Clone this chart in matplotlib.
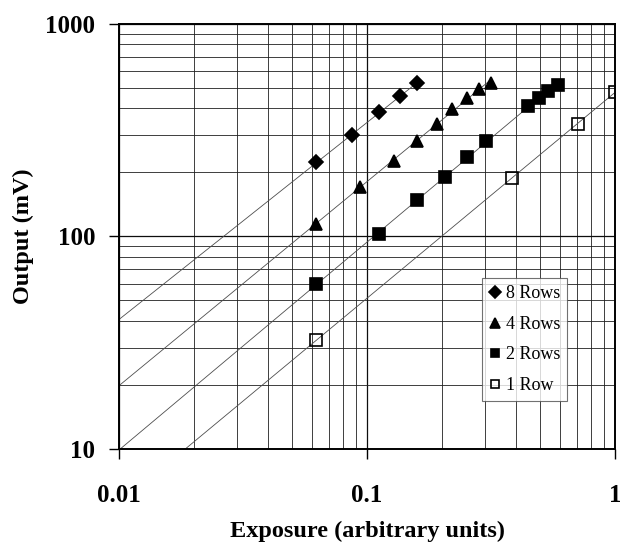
import numpy as np
import matplotlib
matplotlib.use("Agg")
import matplotlib.pyplot as plt
from matplotlib.ticker import LogLocator, NullFormatter, FixedLocator, FixedFormatter

plt.rcParams['font.family'] = ['Liberation Serif', 'DejaVu Serif']

# exposure / output readings per row setting
x8 = [0.0625, 0.087, 0.112, 0.136, 0.159]
y8 = [223, 300, 384, 457, 528]
x4 = [0.0625, 0.094, 0.128, 0.159, 0.191, 0.220, 0.252, 0.283, 0.316]
y4 = [115, 171, 227, 282, 338, 398, 450, 493, 526]
x2 = [0.0625, 0.112, 0.159, 0.206, 0.253, 0.301, 0.444, 0.492, 0.536, 0.588]
y2 = [59.6, 103, 148, 191, 237, 280, 411, 450, 484, 516]
x1 = [0.0625, 0.385, 0.706, 1.0]
y1 = [32.6, 188, 338, 480]

labels = ['8 Rows', '4 Rows', '2 Rows', '1 Row']
xticks = [0.01, 0.1, 1]
xticklabels = ['0.01', '0.1', '1']
yticks = [10, 100, 1000]
yticklabels = ['10', '100', '1000']

fig = plt.figure(figsize=(6.2, 5.43), dpi=100)
ax = fig.add_axes([0.192, 0.173, 0.800, 0.783])
ax.set_xscale('log')
ax.set_yscale('log')
ax.set_xlim(0.01, 1)
ax.set_ylim(10, 1000)

# grid at every decade step
ax.xaxis.set_minor_locator(LogLocator(base=10, subs=np.arange(2, 10)))
ax.yaxis.set_minor_locator(LogLocator(base=10, subs=np.arange(2, 10)))
ax.xaxis.set_minor_formatter(NullFormatter())
ax.yaxis.set_minor_formatter(NullFormatter())
ax.grid(True, which='major', color='0.05', lw=0.9)
ax.grid(True, which='minor', color='0.12', lw=0.6)
ax.set_axisbelow(True)

series = [(x8, y8, 'D', 'k', 7.5), (x4, y4, '^', 'k', 9),
          (x2, y2, 's', 'k', 8.5), (x1, y1, 's', 'none', 8.5)]

for (xs, ys, m, fc, ms), lab in zip(series, labels):
    xs = np.array(xs)
    ys = np.array(ys)
    # power-law trend line
    p = np.polyfit(np.log10(xs), np.log10(ys), 1)
    xf = np.logspace(-2.5, np.log10(xs.max()), 50)
    ax.plot(xf, 10 ** np.polyval(p, np.log10(xf)), color='0.3', lw=0.6,
            zorder=2)
    ax.plot(xs, ys, ls='none', marker=m, ms=ms, mfc=fc, mec='k', mew=1.2,
            label=lab, zorder=3)

ax.xaxis.set_major_locator(FixedLocator(xticks))
ax.xaxis.set_major_formatter(FixedFormatter(xticklabels))
ax.yaxis.set_major_locator(FixedLocator(yticks))
ax.yaxis.set_major_formatter(FixedFormatter(yticklabels))
ax.tick_params(which='major', direction='out', length=7, width=1,
               labelsize=18)
ax.tick_params(which='minor', length=0)
for t in ax.get_xticklabels() + ax.get_yticklabels():
    t.set_fontweight('bold')
ax.tick_params(axis='x', pad=18)
ax.tick_params(axis='y', pad=10)

for s in ax.spines.values():
    s.set_linewidth(1.4)

ax.set_xlabel('Exposure (arbitrary units)', fontsize=17.5, fontweight='bold',
              labelpad=10)
ax.set_ylabel('Output (mV)', fontsize=17.5, fontweight='bold', labelpad=8)

leg = ax.legend(loc='upper left', bbox_to_anchor=(0.732, 0.402), fontsize=13,
                frameon=True, fancybox=False, edgecolor='0.3',
                handlelength=0.6, handletextpad=0.3, borderpad=0.4,
                labelspacing=0.75, markerscale=0.75, borderaxespad=0)
leg.get_frame().set_linewidth(0.8)

fig.savefig('out.png', dpi=100)
